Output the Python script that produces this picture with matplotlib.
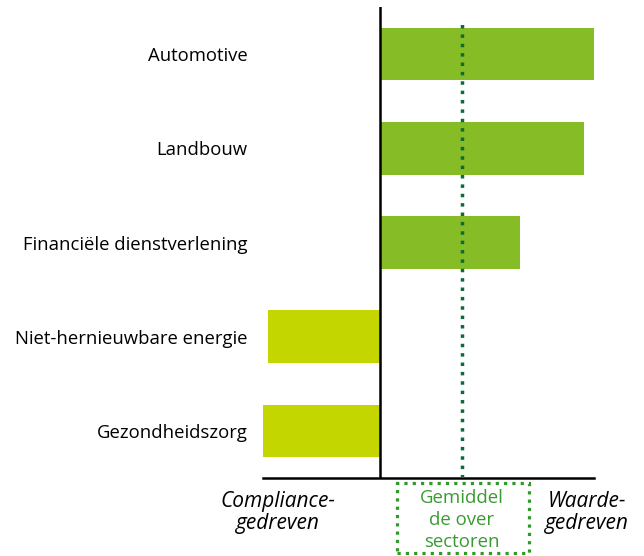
import matplotlib
matplotlib.use("Agg")
import matplotlib.pyplot as plt
from matplotlib.patches import Rectangle

categories = ["Automotive", "Landbouw", "Financiële dienstverlening",
              "Niet-hernieuwbare energie", "Gezondheidszorg"]
values = [21.4, 20.4, 14.0, -11.2, -11.7]
average = 8.2
left_label = "Compliance-\ngedreven"
right_label = "Waarde-\ngedreven"
avg_label = "Gemiddel\nde over\nsectoren"

pos_color = "#86bc25"
neg_color = "#c4d600"

plt.rcParams['font.family'] = ['Open Sans', 'DejaVu Sans']

fig = plt.figure(figsize=(6.44, 5.56), dpi=100)
ax = fig.add_axes([263/644, 1 - 478/556, 331/644, 471/556])

colors = [pos_color if v >= 0 else neg_color for v in values]
ypos = list(range(len(categories)))
ax.barh(ypos, values, height=0.56, color=colors, zorder=2)
ax.set_xlim(-11.7, 21.4)
ax.set_ylim(4.5, -0.5)

ax.axvline(0, color="black", lw=1.8, zorder=3)
ax.axvline(average, ymin=0, ymax=0.972, color="#0b6b3a", lw=2.5,
           linestyle=(0, (1, 1.7)), zorder=4)

for s in ["top", "right", "left"]:
    ax.spines[s].set_visible(False)
ax.spines["bottom"].set_linewidth(1.8)
ax.set_xticks([])
ax.set_yticks(ypos)
ax.set_yticklabels(categories, fontsize=13.3)
ax.tick_params(axis="y", length=0, pad=11)

# bottom labels
tr = ax.get_xaxis_transform()
ax.text(-10.2, -0.073, left_label, transform=tr,
        ha="center", va="center", fontsize=15, style="italic", linespacing=1.1)
ax.text(20.7, -0.073, right_label, transform=tr,
        ha="center", va="center", fontsize=15, style="italic", linespacing=1.1)
ax.text(average, -0.089, avg_label, transform=tr,
        ha="center", va="center", fontsize=13.4, color="#3a9a32", linespacing=1.26)

# dotted box around average label
bx0 = 397/644
by0 = 1 - 553/556
box = Rectangle((bx0, by0), (529-397)/644, (553-483)/556, transform=fig.transFigure,
                fill=False, edgecolor="#2e9a2a", lw=2.3, linestyle=(0, (1, 1.6)))
fig.patches.append(box)

fig.savefig("out.png", dpi=100)
